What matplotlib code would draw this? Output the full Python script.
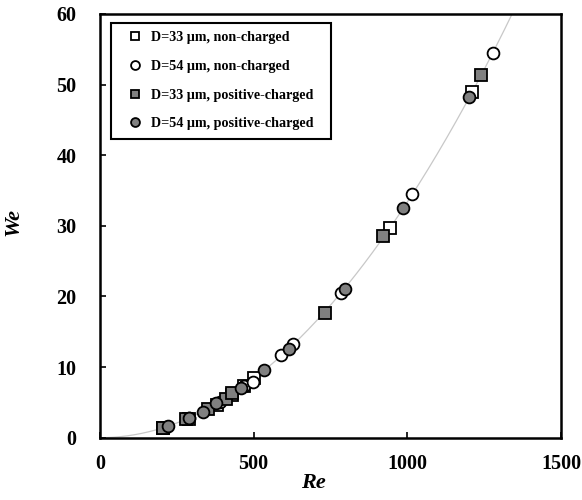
import numpy as np
import matplotlib
matplotlib.use("Agg")
import matplotlib.pyplot as plt

# D=33 um, non-charged (open squares)
re_33_nc = [205, 290, 380, 430, 470, 500, 945, 1210]
we_33_nc = [1.4, 2.7, 4.6, 6.0, 7.3, 8.4, 29.7, 49.0]
# D=54 um, non-charged (open circles)
re_54_nc = [215, 290, 390, 470, 497, 590, 628, 785, 1016, 1279]
we_54_nc = [1.5, 2.8, 5.0, 7.3, 7.9, 11.7, 13.3, 20.5, 34.5, 54.5]
# D=33 um, positive-charged (filled squares)
re_33_pc = [204, 280, 350, 410, 430, 731, 921, 1241]
we_33_pc = [1.4, 2.6, 4.0, 5.5, 6.3, 17.6, 28.5, 51.4]
# D=54 um, positive-charged (filled circles)
re_54_pc = [220, 291, 334, 378, 459, 535, 615, 796, 986, 1201]
we_54_pc = [1.6, 2.8, 3.7, 4.9, 7.0, 9.6, 12.5, 21.0, 32.5, 48.3]

labels = ["D=33 \u03bcm, non-charged", "D=54 \u03bcm, non-charged",
          "D=33 \u03bcm, positive-charged", "D=54 \u03bcm, positive-charged"]
xticks = [0, 500, 1000, 1500]
yticks = [0, 10, 20, 30, 40, 50, 60]

plt.rcParams['font.family'] = ['Liberation Serif', 'DejaVu Serif']
fig = plt.figure(figsize=(5.82, 5.0), dpi=100)
ax = fig.add_axes([0.1718, 0.1246, 0.7922, 0.8474])

# quadratic fit We = c*Re^2 through all data
all_re = np.array(re_33_nc + re_54_nc + re_33_pc + re_54_pc, float)
all_we = np.array(we_33_nc + we_54_nc + we_33_pc + we_54_pc, float)
c = np.sum(all_we * all_re**2) / np.sum(all_re**4)
xf = np.linspace(0, 1500, 400)
ax.plot(xf, c * xf**2, color='#c8c8c8', lw=0.9, zorder=1)

ms = 8.5
mew = 1.3
ax.plot(re_33_nc, we_33_nc, 's', ms=ms, mfc='white', mec='black', mew=mew, ls='none', label=labels[0], zorder=2)
ax.plot(re_54_nc, we_54_nc, 'o', ms=ms, mfc='white', mec='black', mew=mew, ls='none', label=labels[1], zorder=2)
ax.plot(re_33_pc, we_33_pc, 's', ms=ms, mfc='#808080', mec='black', mew=mew, ls='none', label=labels[2], zorder=3)
ax.plot(re_54_pc, we_54_pc, 'o', ms=ms, mfc='#808080', mec='black', mew=mew, ls='none', label=labels[3], zorder=3)

ax.set_xlim(0, 1500)
ax.set_ylim(0, 60)
ax.set_xticks(xticks)
ax.set_yticks(yticks)
ax.tick_params(direction='in', length=4, width=1.2, labelsize=14.5)
ax.tick_params(axis='x', pad=12)
ax.tick_params(axis='y', pad=17)
for t in ax.get_xticklabels() + ax.get_yticklabels():
    t.set_fontweight('bold')
for s in ax.spines.values():
    s.set_linewidth(1.8)

ax.set_xlabel('Re', fontsize=16, fontweight='bold', fontstyle='italic', va='center')
ax.set_ylabel('We', fontsize=16, fontweight='bold', fontstyle='italic', va='center')
ax.xaxis.set_label_coords(0.463, -0.107)
ax.yaxis.set_label_coords(-0.188, 0.509)

leg = ax.legend(loc='upper left', bbox_to_anchor=(0.024, 0.5, 0.478, 0.479), mode='expand',
                fancybox=False, edgecolor='black', framealpha=1, markerscale=0.75,
                prop={'weight': 'bold', 'size': 10.2}, handlelength=2.2,
                handletextpad=0.05, labelspacing=1.1, borderpad=0.6,
                borderaxespad=0)
leg.get_frame().set_linewidth(1.5)

fig.savefig('out.png', dpi=100)
